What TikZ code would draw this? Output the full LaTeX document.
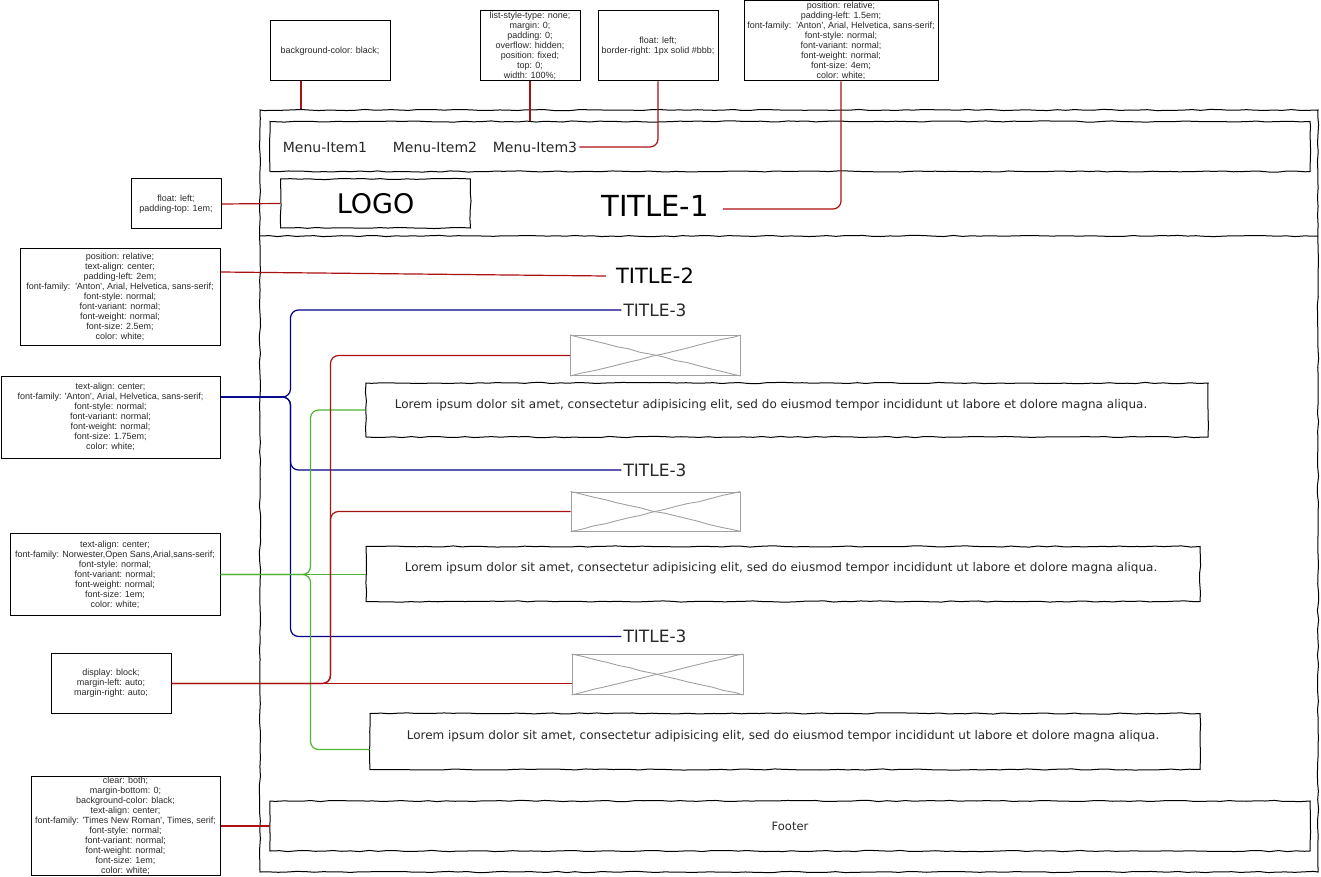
\documentclass[tikz,border=0pt]{standalone}
\usepackage{fontspec}
\setmainfont{DejaVu Sans}
\newfontfamily\notefont{Liberation Sans}
\usetikzlibrary{decorations.pathmorphing,calc}
\definecolor{cred}{RGB}{170,17,17}
\definecolor{cblue}{RGB}{0,0,140}
\definecolor{cgreen}{RGB}{80,180,50}
\definecolor{imggray}{RGB}{160,160,160}
\definecolor{txt}{RGB}{40,40,40}
\begin{document}
\begin{tikzpicture}[x=1pt,y=-1pt,
  sketch/.style={draw=black, line width=1pt, decorate,
    decoration={random steps,segment length=9pt,amplitude=0.6pt}},
  skbox/.style={sketch, inner sep=0pt},
  note/.style={draw=black, line width=1pt, inner sep=0pt, align=center,
    font=\notefont\fontsize{9}{10}\selectfont, text=txt},
  imgbox/.style={draw=imggray, line width=1pt, inner sep=0pt},
  imgx/.style={draw=imggray, line width=0.9pt, decorate,
    decoration={random steps,segment length=12pt,amplitude=0.5pt}},
  lbl/.style={inner sep=2pt, text=txt},
  conn/.style={line width=1.2pt, rounded corners=8pt},
  rconn/.style={conn, draw=cred},
  bconn/.style={conn, draw=cblue},
  gconn/.style={conn, draw=cgreen}]
\pgfmathsetseed{7}
\useasboundingbox (0,0) rectangle (1321,877);

% ---- annotation notes
\node[note, minimum width=120pt, minimum height=60pt] (bg) at (330,51) {background-color: black;};
\node[note, minimum width=100pt, minimum height=70pt] (ul) at (530,46)
 {list-style-type: none;\\margin: 0;\\padding: 0;\\overflow: hidden;\\position: fixed;\\top: 0;\\width: 100\%;};
\node[note, minimum width=120pt, minimum height=70pt] (fl) at (658,46)
 {float: left;\\border-right: 1px solid \#bbb;};
\node[note, minimum width=194pt, minimum height=80pt] (tonenote) at (841,41)
 {position: relative;\\padding-left: 1.5em;\\font-family:\ \ 'Anton', Arial, Helvetica, sans-serif;\\font-style: normal;\\font-variant: normal;\\font-weight: normal;\\font-size: 4em;\\color: white;};
\node[note, minimum width=90pt, minimum height=50pt] (logonote) at (176,204)
 {float: left;\\padding-top: 1em;};
\node[note, minimum width=200pt, minimum height=97pt] (ttwonote) at (120,296.5)
 {position: relative;\\text-align: center;\\padding-left: 2em;\\font-family:\ \ 'Anton', Arial, Helvetica, sans-serif;\\font-style: normal;\\font-variant: normal;\\font-weight: normal;\\font-size: 2.5em;\\color: white;};
\node[note, minimum width=219pt, minimum height=82pt] (tthreenote) at (110.5,417)
 {text-align: center;\\font-family: 'Anton', Arial, Helvetica, sans-serif;\\font-style: normal;\\font-variant: normal;\\font-weight: normal;\\font-size: 1.75em;\\color: white;};
\node[note, minimum width=210pt, minimum height=82pt] (pnote) at (115,574.5)
 {text-align: center;\\font-family: Norwester,Open Sans,Arial,sans-serif;\\font-style: normal;\\font-variant: normal;\\font-weight: normal;\\font-size: 1em;\\color: white;};
\node[note, minimum width=120pt, minimum height=60pt] (imgnote) at (111,683.5)
 {display: block;\\margin-left: auto;\\margin-right: auto;};
\node[note, minimum width=189pt, minimum height=99pt] (footnote) at (125.5,826)
 {clear: both;\\margin-bottom: 0;\\background-color: black;\\text-align: center;\\font-family: 'Times New Roman', Times, serif;\\font-style: normal;\\font-variant: normal;\\font-weight: normal;\\font-size: 1em;\\color: white;};

% ---- page mock-up
\node[skbox, minimum width=1058pt, minimum height=762pt] (page) at (789,491) {};
\coordinate (hdl) at (260,236);
\coordinate (hdr) at (1318,236);
\draw[sketch] (hdl) -- (hdr);
\node[skbox, minimum width=1040pt, minimum height=50pt] (menu) at (790,146.5) {};
\node[lbl, font=\fontsize{14}{16}\selectfont] (mi1) at (325,147) {Menu-Item1};
\node[lbl, font=\fontsize{14}{16}\selectfont] (mi2) at (435,147) {Menu-Item2};
\node[lbl, font=\fontsize{14}{16}\selectfont] (mi3) at (535,147) {Menu-Item3};
\node[skbox, minimum width=190pt, minimum height=49pt, font=\fontsize{27}{30}\selectfont, text=black] (logo) at (375.5,203.5) {LOGO};
\node[lbl, font=\fontsize{29}{32}\selectfont, text=black] (title1) at (655,206) {TITLE-1};
\node[lbl, font=\fontsize{21}{24}\selectfont, text=black] (title2) at (655,276) {TITLE-2};
\node[lbl, font=\fontsize{17}{20}\selectfont] (title3a) at (655,310) {TITLE-3};
\node[lbl, font=\fontsize{17}{20}\selectfont] (title3b) at (655,470) {TITLE-3};
\node[lbl, font=\fontsize{17}{20}\selectfont] (title3c) at (655,636.5) {TITLE-3};

\node[imgbox, minimum width=170pt, minimum height=40pt] (img1) at (655.5,355.5) {};
\node[imgbox, minimum width=169pt, minimum height=39pt] (img2) at (655.5,511.5) {};
\node[imgbox, minimum width=171pt, minimum height=40pt] (img3) at (657.5,674.5) {};
\foreach \i in {img1,img2,img3}{
  \draw[imgx] (\i.north west) -- (\i.south east);
  \draw[imgx] (\i.south west) -- (\i.north east);
}

\node[skbox, minimum width=842pt, minimum height=54pt] (para1) at (787,410) {};
\node[skbox, minimum width=834pt, minimum height=55pt] (para2) at (783,574) {};
\node[skbox, minimum width=830pt, minimum height=56pt] (para3) at (785,741.5) {};
\node[lbl, font=\fontsize{12}{14}\selectfont] (ptext1) at (771,405) {Lorem ipsum dolor sit amet, consectetur adipisicing elit, sed do eiusmod tempor incididunt ut labore et dolore magna aliqua.};
\node[lbl, font=\fontsize{12}{14}\selectfont] (ptext2) at (781,568) {Lorem ipsum dolor sit amet, consectetur adipisicing elit, sed do eiusmod tempor incididunt ut labore et dolore magna aliqua.};
\node[lbl, font=\fontsize{12}{14}\selectfont] (ptext3) at (783,736.5) {Lorem ipsum dolor sit amet, consectetur adipisicing elit, sed do eiusmod tempor incididunt ut labore et dolore magna aliqua.};

\node[skbox, minimum width=1040pt, minimum height=50pt, font=\fontsize{11.5}{13}\selectfont, text=txt] (footer) at (790,826) {Footer};

% ---- connectors
\coordinate (bgfoot) at ([xshift=-29pt]bg.south);
\draw[rconn] (bgfoot) -- (bgfoot |- page.north);
\draw[rconn] (ul.south) -- (ul.south |- menu.north);
\draw[rconn] (fl.south) |- (mi3.east);
\draw[rconn] (tonenote.south) |- ([yshift=-3pt,xshift=12pt]title1.east);
\draw[rconn] (logonote.east) -- (logo.west);
\draw[rconn] ([yshift=24.5pt]ttwonote.east) -- ([xshift=-8pt]title2.west);

\coordinate (bfork) at ([yshift=20pt]tthreenote.east);
\coordinate (bsplit) at ($(bfork)+(70,0)$);
\draw[bconn] (bfork) -- (bsplit) |- (title3a.west);
\draw[bconn] (bfork) -- (bsplit) |- (title3b.west);
\draw[bconn] (bfork) -- (bsplit) |- (title3c.west);

\coordinate (gsplit) at ($(pnote.east)+(90,0)$);
\draw[gconn] (pnote.east) -- (gsplit) |- (para1.west);
\draw[gconn] (pnote.east) -- (pnote.east -| para2.west);
\draw[gconn] (pnote.east) -- (gsplit) |- ([yshift=-8pt]para3.west);

\coordinate (rsplit) at ($(imgnote.east)+(159,0)$);
\draw[rconn] (imgnote.east) -- (rsplit) |- (img1.west);
\draw[rconn] (imgnote.east) -- (rsplit) |- (img2.west);
\draw[rconn] (imgnote.east) -- (imgnote.east -| img3.west);

\draw[rconn] (footnote.east) -- (footer.west);
\end{tikzpicture}
\end{document}
